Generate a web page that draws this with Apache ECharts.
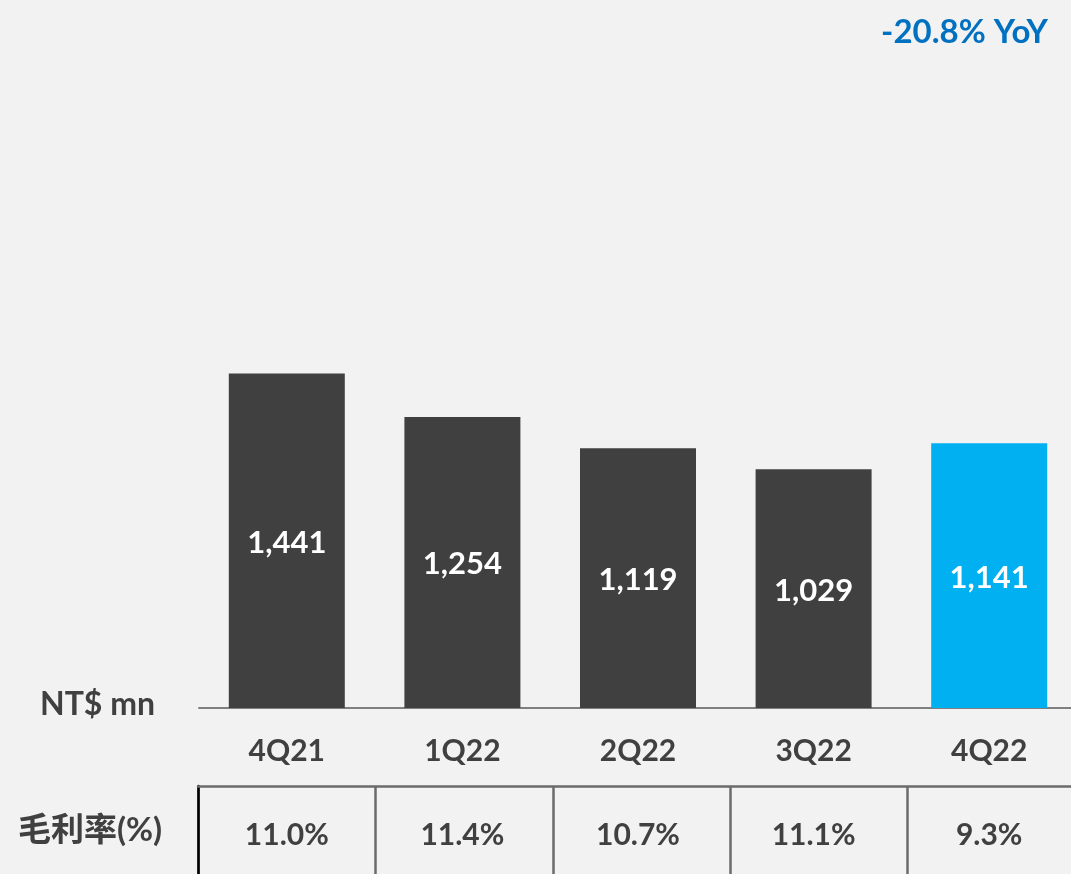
<!DOCTYPE html>
<html>
<head>
<meta charset="utf-8">
<script src="https://cdn.jsdelivr.net/npm/echarts@6/dist/echarts.min.js"></script>
<style>
  html, body { margin: 0; padding: 0; background: #f2f2f2; }
  #chart { width: 1071px; height: 874px; }
</style>
</head>
<body>
<div id="chart"></div>
<script>
  // 毛利 (NT$ mn) by quarter
  var quarters = ['4Q21', '1Q22', '2Q22', '3Q22', '4Q22'];
  var grossProfit = [1441, 1254, 1119, 1029, 1141];
  var grossMargin = ['11.0%', '11.4%', '10.7%', '11.1%', '9.3%'];

  var font = "Lato, 'Noto Sans CJK TC', sans-serif";
  var dark = '#404040';

  var myChart = echarts.init(document.getElementById('chart'));

  var option = {
    backgroundColor: '#f2f2f2',
    animation: false,
    title: {
      text: '-20.8% YoY',
      right: 18,
      top: 11,
      textStyle: { color: '#0070c0', fontSize: 33, fontWeight: 'bold', fontFamily: font }
    },
    graphic: [
      {
        type: 'text', left: 40, top: 689,
        style: { text: 'NT$ mn', fill: dark, font: 'bold 32px ' + font }
      },
      {
        type: 'text', left: 18, top: 814,
        style: { text: '毛利率(%)', fill: dark, font: 'bold 33px ' + font }
      }
    ],
    grid: [
      // bars
      { left: 199, top: 58, width: 878, height: 650, outerBoundsMode: 'none', containLabel: false },
      // table borders
      { left: 198, top: 786, width: 887, height: 100, outerBoundsMode: 'none', containLabel: false },
      // table texts, lined up with the bars
      { left: 199, top: 786, width: 878, height: 100, outerBoundsMode: 'none', containLabel: false }
    ],
    xAxis: [
      {
        type: 'category',
        gridIndex: 0,
        data: quarters,
        axisLine: { lineStyle: { color: '#7f7f7f', width: 2 } },
        axisTick: { show: false },
        axisLabel: { color: dark, fontSize: 30, fontWeight: 'bold', fontFamily: font, margin: 28 }
      },
      {
        type: 'category',
        gridIndex: 1,
        position: 'top',
        data: grossMargin,
        axisLine: { onZero: false, lineStyle: { color: '#6b6b6b', width: 2.5 } },
        axisTick: { show: false },
        axisLabel: { show: false },
        splitLine: { show: true, lineStyle: { color: '#6b6b6b', width: 2.5 } }
      },
      {
        type: 'category',
        gridIndex: 2,
        position: 'top',
        data: grossMargin,
        axisLine: { show: false, onZero: false },
        axisTick: { show: false },
        axisLabel: { inside: true, color: dark, fontSize: 30, fontWeight: 'bold', fontFamily: font, margin: 34 }
      }
    ],
    yAxis: [
      { type: 'value', gridIndex: 0, min: 0, max: 2800, show: false },
      {
        type: 'value', gridIndex: 1, min: 0, max: 1,
        axisLine: { show: true, lineStyle: { color: '#000', width: 2.5 } },
        axisLabel: { show: false },
        axisTick: { show: false },
        splitLine: { show: false }
      },
      { type: 'value', gridIndex: 2, min: 0, max: 1, show: false }
    ],
    series: [
      {
        type: 'bar',
        xAxisIndex: 0,
        yAxisIndex: 0,
        barWidth: 116,
        data: grossProfit.map(function (v, i) {
          return { value: v, itemStyle: { color: i === grossProfit.length - 1 ? '#00b0f0' : dark } };
        }),
        label: {
          show: true,
          position: 'inside',
          offset: [0, 2],
          color: '#fff',
          fontSize: 31,
          fontWeight: 'bold',
          fontFamily: font,
          formatter: function (p) { return p.value.toLocaleString('en-US'); }
        }
      }
    ]
  };

  myChart.setOption(option);
</script>
</body>
</html>
